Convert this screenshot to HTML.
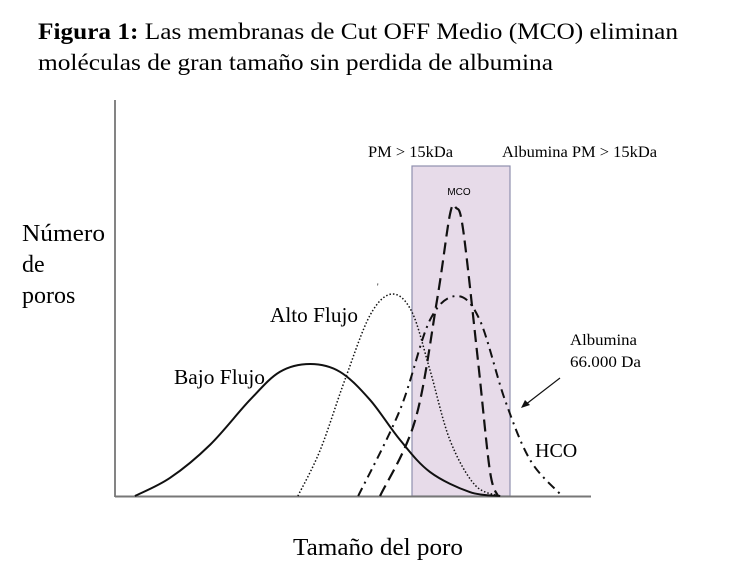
<!DOCTYPE html>
<html><head><meta charset="utf-8"><style>
html,body{margin:0;padding:0;background:#fff;}
svg{display:block;font-family:"Liberation Serif",serif;}
</style></head><body>
<svg width="736" height="568" viewBox="0 0 736 568">
<text x="38" y="39" font-size="23" textLength="640" lengthAdjust="spacingAndGlyphs"><tspan font-weight="bold">Figura 1:</tspan> Las membranas de Cut OFF Medio (MCO) eliminan</text>
<text x="38" y="70" font-size="23" textLength="515" lengthAdjust="spacingAndGlyphs">moléculas de gran tamaño sin perdida de albumina</text>
<rect x="412" y="166" width="98" height="330" fill="#e7dbe9" stroke="#8f8fae" stroke-width="1.2"/>
<line x1="115" y1="100" x2="115" y2="497" stroke="#333" stroke-width="1.2"/>
<line x1="115" y1="496.5" x2="591" y2="496.5" stroke="#777" stroke-width="2"/>
<g id="curves"></g>
<text x="22" y="241" font-size="24" textLength="83" lengthAdjust="spacingAndGlyphs">Número</text>
<text x="22" y="272" font-size="24">de</text>
<text x="22" y="303" font-size="24">poros</text>
<text x="293" y="555" font-size="24" textLength="170" lengthAdjust="spacingAndGlyphs">Tamaño del poro</text>
<text x="368" y="157" font-size="16" textLength="85" lengthAdjust="spacingAndGlyphs">PM &gt; 15kDa</text>
<text x="502" y="157" font-size="16" textLength="155" lengthAdjust="spacingAndGlyphs">Albumina  PM &gt; 15kDa</text>
<text x="459" y="195" font-size="10" text-anchor="middle" font-family="Liberation Sans, sans-serif">MCO</text>
<text x="270" y="322" font-size="21" textLength="88" lengthAdjust="spacingAndGlyphs">Alto Flujo</text>
<text x="174" y="384" font-size="21" textLength="91" lengthAdjust="spacingAndGlyphs">Bajo Flujo</text>
<text x="570" y="345" font-size="16" textLength="67" lengthAdjust="spacingAndGlyphs">Albumina</text>
<text x="570" y="367" font-size="16" textLength="71" lengthAdjust="spacingAndGlyphs">66.000 Da</text>
<text x="535" y="457" font-size="20">HCO</text>
<line x1="560" y1="378" x2="525" y2="405" stroke="#111" stroke-width="1.2"/>
<polygon points="521,408 525,400 530,405" fill="#111"/>
<text x="377" y="290" font-size="9">'</text>
</svg>
<script>
const bajoX=[4.2,11.6,20,28.4,34.7,41.1,47.4,53.7,60,66.3,74.7,81.1];
const bajoY=[0,5.5,15.5,29.1,37.6,40,37.6,29.1,17,7.3,1.2,0];
const altoX=[38.5,43.2,48.4,53.7,58.3,62.5,66.3,70.5,75.8,81.1];
const altoY=[0,13.9,35.2,54.8,61.2,55.8,38.2,17,3.3,0];
const mcoX=[55.8,63.2,67.8,70.5,71.8,73.3,76.4,78.9,80.6];
const mcoY=[0,23,59.4,85.2,87.3,80.6,41.2,7.9,0];
const hcoX=[51.2,60,66.3,72,76.8,82.1,87.4,93.7];
const hcoY=[0,26.1,53.3,60.6,53.3,29.1,10.9,0.6];
function sx(v){return 115+v*4.75;}
function sy(v){return 496-v*3.3;}
function pathD(xs,ys){
  const p=xs.map((x,i)=>[sx(x),sy(ys[i])]);
  let d='M'+p[0][0]+','+p[0][1];
  for(let i=0;i<p.length-1;i++){
    const p0=p[i-1]||p[i],p1=p[i],p2=p[i+1],p3=p[i+2]||p2;
    const c1=[p1[0]+(p2[0]-p0[0])/6,p1[1]+(p2[1]-p0[1])/6];
    const c2=[p2[0]-(p3[0]-p1[0])/6,p2[1]-(p3[1]-p1[1])/6];
    d+=' C'+c1+' '+c2+' '+p2;
  }
  return d;
}
const g=document.getElementById('curves');
const NS='http://www.w3.org/2000/svg';
function add(xs,ys,dash,w,name){
  const el=document.createElementNS(NS,'path');
  el.setAttribute('d',pathD(xs,ys));
  el.setAttribute('fill','none');
  el.setAttribute('stroke','#111');
  el.setAttribute('stroke-width',w);
  if(dash)el.setAttribute('stroke-dasharray',dash);
  
  
  g.appendChild(el);
}
add(bajoX,bajoY,null,2,'bajo-flujo-curve');
add(altoX,altoY,'1.5 2',1.5,'alto-flujo-curve');
add(hcoX,hcoY,'9 5 2 5',2,'hco-curve');
add(mcoX,mcoY,'12 6',2.2,'mco-curve');
</script>
</body></html>
